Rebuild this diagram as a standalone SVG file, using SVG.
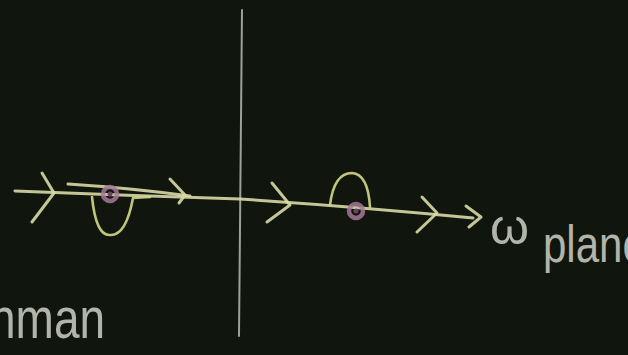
<svg xmlns="http://www.w3.org/2000/svg" width="628" height="355" viewBox="0 0 628 355">
<defs>
<style>
.chalk{fill:none;stroke:#d9d9a6;stroke-width:3;stroke-linecap:round;stroke-linejoin:round;opacity:0.9}
.yel{fill:none;stroke:#d6d68a;stroke-width:2.6;stroke-linecap:round;stroke-linejoin:round;opacity:0.9}
.axis{fill:none;stroke:#b9bab2;stroke-width:2;stroke-linecap:round;opacity:0.85}
.pole{fill:none;stroke:#a67898;stroke-width:4.5;opacity:0.85}
.txt{fill:#c4c6bc;font-family:"Liberation Sans",Arial,sans-serif;opacity:0.9}
</style>
</defs>
<rect width="628" height="355" fill="#10150d"/>
<g id="axis">
<path class="axis" d="M242 10 Q240 170 239 336"/>
</g>
<g id="connectors">
<path class="chalk" d="M15 191 L120 195 L240 199 Q360 207 473 218"/>
<path class="chalk" d="M68 184 Q130 188 190 196" stroke-width="2"/>
<path class="chalk" d="M42 173 L54 193 L32 222"/>
<path class="chalk" d="M170 179 L185 195 L179 203"/>
<path class="chalk" d="M272 183 L290 205 L267 222"/>
<path class="chalk" d="M422 197 L437 213 L417 232"/>
<path class="chalk" d="M466 206 L481 217 L469 227" stroke="#c8cac4" stroke-width="2.2"/>
<path class="yel" d="M92 197 Q96 236 110 235 Q126 236 133 198 L150 197"/>
<path class="yel" d="M330 205 Q334 173 352 173 Q368 174 370 207"/>
</g>
<g id="poles">
<circle class="pole" cx="110" cy="194" r="7"/>
<circle cx="110" cy="194" r="2.5" fill="#6a4560"/>
<circle class="pole" cx="356" cy="211" r="7"/>
<circle cx="356" cy="211" r="2.5" fill="#6a4560"/>
</g>
<g id="labels">
<text class="txt" x="490" y="244" font-size="50">ω</text>
<text class="txt" x="543" y="262" font-size="42" transform="translate(543 262) scale(1 1.25) translate(-543 -262)">plane</text>
<text class="txt" x="-10" y="338" font-size="46" transform="translate(0 338) scale(1 1.25) translate(0 -338)">nman</text>
</g>
</svg>
